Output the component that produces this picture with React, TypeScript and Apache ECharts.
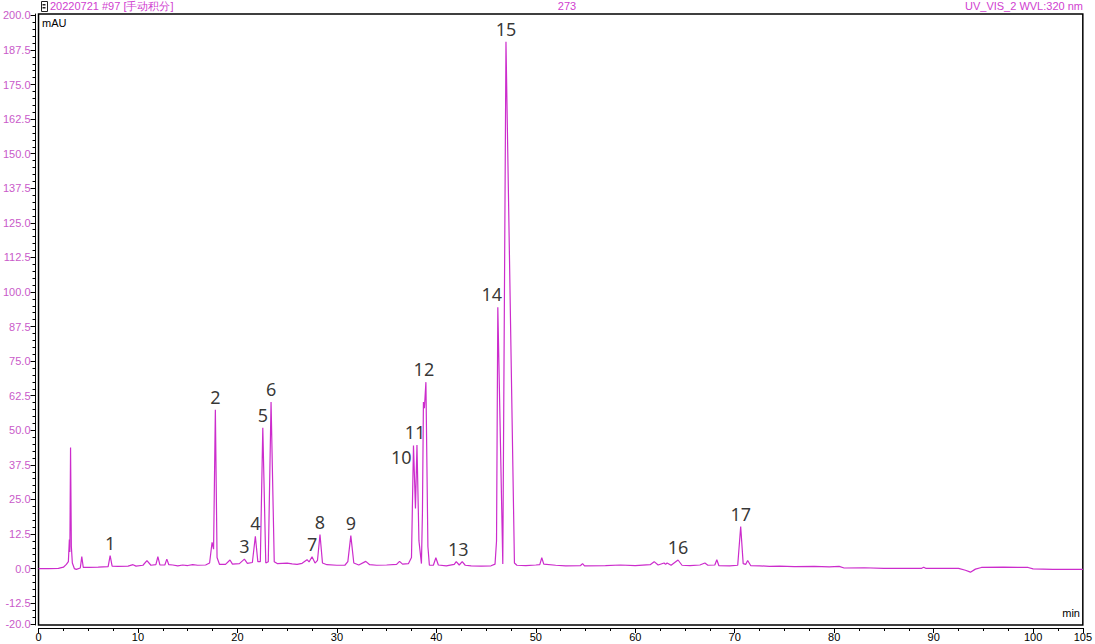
import React, { useEffect, useRef } from "react";
import * as echarts from "echarts";

// Chromatogram trace: [retention time (min), absorbance (mAU)]
const trace: [number, number][] = [
  [0.0, 0.0], [1.0, 0.0], [2.0, 0.1], [2.5, 0.5], [2.8, 1.5], [3.0, 2.5],
  [3.1, 10.5], [3.15, 6.0], [3.22, 43.8], [3.3, 8.0], [3.4, 2.0], [3.6, 0.0],
  [3.8, -0.3], [4.2, 0.2], [4.35, 4.3], [4.5, 0.4], [5.0, 0.4], [6.0, 0.5],
  [7.0, 0.7], [7.2, 4.7], [7.4, 0.9], [8.0, 0.8], [9.0, 0.9], [9.5, 1.4],
  [9.8, 0.9], [10.5, 1.2], [10.9, 2.9], [11.3, 1.2], [11.8, 1.4], [12.0, 4.3],
  [12.2, 1.3], [12.7, 1.3], [12.9, 3.4], [13.1, 1.4], [13.5, 1.3], [14.0, 1.0],
  [14.5, 1.3], [15.0, 1.1], [15.5, 1.4], [16.0, 1.2], [16.8, 1.3], [17.2, 2.0],
  [17.45, 9.5], [17.6, 7.0], [17.78, 57.4], [17.95, 4.0], [18.2, 1.5], [18.8, 1.5],
  [19.25, 3.1], [19.5, 1.6], [20.2, 1.8], [20.7, 3.4], [21.0, 1.9], [21.5, 2.2],
  [21.8, 11.7], [22.05, 2.5], [22.3, 2.5], [22.55, 50.9], [22.85, 2.0], [23.1, 2.5],
  [23.38, 60.2], [23.7, 2.5], [24.0, 1.8], [25.0, 2.0], [25.5, 1.7], [26.0, 1.5],
  [26.5, 1.9], [27.0, 3.2], [27.2, 2.4], [27.5, 4.3], [27.8, 2.0], [28.05, 3.0],
  [28.3, 12.3], [28.55, 2.0], [29.0, 1.4], [30.0, 1.2], [30.8, 1.2], [31.1, 2.5],
  [31.4, 11.9], [31.7, 2.0], [32.2, 1.3], [32.9, 2.6], [33.3, 1.4], [34.0, 1.2],
  [35.0, 1.3], [36.0, 1.5], [36.3, 2.6], [36.6, 1.6], [37.2, 1.8], [37.5, 4.0],
  [37.7, 44.5], [37.9, 21.7], [38.05, 44.7], [38.25, 10.0], [38.5, 1.8], [38.6, 20.0],
  [38.7, 60.2], [38.8, 58.0], [38.95, 67.4], [39.15, 8.0], [39.3, 1.2], [39.7, 1.2],
  [39.95, 3.9], [40.2, 1.3], [41.0, 1.0], [41.8, 1.5], [42.0, 2.5], [42.3, 1.3],
  [42.6, 2.5], [42.9, 1.2], [43.5, 1.0], [44.5, 0.9], [45.5, 1.0], [45.9, 1.6],
  [46.05, 10.0], [46.18, 94.5], [46.68, 1.7], [47.0, 190.5], [47.85, 2.0], [48.1, 1.2],
  [49.0, 1.1], [50.0, 1.3], [50.4, 1.4], [50.6, 3.9], [50.8, 1.6], [52.0, 1.2],
  [53.0, 1.0], [54.5, 1.1], [54.7, 1.8], [54.9, 1.0], [57.0, 1.1], [58.5, 1.3],
  [60.0, 1.1], [61.5, 1.4], [61.9, 2.5], [62.3, 1.3], [62.9, 2.0], [63.05, 1.5],
  [63.2, 2.0], [63.6, 1.2], [64.3, 3.1], [64.7, 1.2], [65.5, 1.1], [66.5, 1.3],
  [67.0, 2.0], [67.3, 1.2], [68.0, 1.3], [68.2, 3.2], [68.4, 1.1], [69.5, 1.0],
  [70.3, 1.2], [70.6, 15.2], [70.85, 1.8], [71.1, 1.5], [71.3, 2.9], [71.6, 1.1],
  [72.5, 1.0], [73.5, 0.8], [74.5, 0.9], [76.0, 0.7], [78.0, 0.8], [79.5, 0.6],
  [80.5, 0.8], [81.0, 0.2], [83.0, 0.3], [85.0, 0.1], [88.8, 0.1], [89.0, 0.5],
  [89.2, 0.1], [92.5, 0.1], [93.2, -0.6], [93.7, -1.3], [94.2, -0.2], [94.8, 0.4],
  [97.0, 0.5], [99.5, 0.4], [100.0, -0.1], [102.0, -0.3], [105.0, -0.3],
];

// Numbered peak annotations: [label, time, apex mAU]
const peakNames = ["1", "2", "3", "4", "5", "6", "7", "8", "9", "10", "11", "12", "13", "14", "15", "16", "17"];
const peakTimes = [7.2, 17.78, 20.7, 21.8, 22.55, 23.38, 27.5, 28.3, 31.4, 37.7, 38.05, 38.95, 42.2, 46.18, 47.0, 64.3, 70.6];
const peakHeights = [4.7, 57.4, 3.4, 11.7, 50.9, 60.2, 4.3, 12.3, 11.9, 44.5, 44.7, 67.4, 2.5, 94.5, 190.5, 3.1, 15.2];

const yTickLabels = [-20, -12.5, 0, 12.5, 25, 37.5, 50, 62.5, 75, 87.5, 100, 112.5, 125, 137.5, 150, 162.5, 175, 187.5, 200];
const xTickLabels = [0, 10, 20, 30, 40, 50, 60, 70, 80, 90, 100, 105];

const headerLeft = "20220721 #97 [手动积分]";
const headerCenter = "273";
const headerRight = "UV_VIS_2 WVL:320 nm";

const yMinor: number[] = [];
for (let v = -20; v <= 200.001; v += 2.5) yMinor.push(Math.round(v * 10) / 10);
const xMinor: number[] = [];
for (let v = 0; v <= 105.001; v += 2.5) xMinor.push(Math.round(v * 10) / 10);

const PINK = "#c95ac9";
const TRACE = "#cc2ccc";
const FONT = "'Liberation Sans', Arial, sans-serif";

export default function App() {
  const ref = useRef<HTMLDivElement>(null);
  useEffect(() => {
    if (!ref.current) return;
    const chart = echarts.init(ref.current, null, { renderer: "svg" });
    const labelData = peakNames.map((n, i) => {
      const item: any = { name: n, value: [peakTimes[i], peakHeights[i]] };
      if (n === "10") item.label = { position: "left", distance: 2, offset: [0, 12] };
      if (n === "11") item.label = { offset: [-2, 0] };
      if (n === "12") item.label = { offset: [-2, 0] };
      if (n === "14") item.label = { offset: [-6, 0] };
      return item;
    });
    const yBase = {
      type: "value",
      min: -20.4,
      max: 200.5,
      position: "left",
      offset: 3,
      splitLine: { show: false },
    };
    const xBase = {
      type: "value",
      min: 0,
      max: 105,
      position: "bottom",
      offset: 3,
      splitLine: { show: false },
    };
    chart.setOption({
      animation: false,
      backgroundColor: "#fff",
      grid: {
        left: 37,
        right: 9,
        top: 14,
        bottom: 19,
        show: true,
        borderColor: "#000",
        borderWidth: 1.5,
        backgroundColor: "transparent",
      },
      xAxis: [
        {
          ...xBase,
          axisLine: { show: true, onZero: false, lineStyle: { color: "#000", width: 1 } },
          axisTick: { show: true, customValues: xTickLabels, length: 5, lineStyle: { color: "#000" } },
          axisLabel: {
            customValues: xTickLabels,
            color: "#000",
            fontSize: 11,
            fontFamily: FONT,
            margin: 3,
            formatter: (v: number) => String(v),
          },
        },
        {
          ...xBase,
          axisLine: { show: false, onZero: false },
          axisTick: { show: true, customValues: xMinor, length: 3, lineStyle: { color: "#000" } },
          axisLabel: { show: false },
        },
      ],
      yAxis: [
        {
          ...yBase,
          axisLine: { show: true, onZero: false, lineStyle: { color: "#000", width: 1 } },
          axisTick: { show: true, customValues: yTickLabels, length: 5, lineStyle: { color: "#000" } },
          axisLabel: {
            customValues: yTickLabels,
            color: PINK,
            fontSize: 11,
            fontFamily: FONT,
            margin: 5,
            formatter: (v: number) => v.toFixed(1),
          },
        },
        {
          ...yBase,
          axisLine: { show: false, onZero: false },
          axisTick: { show: true, customValues: yMinor, length: 3, lineStyle: { color: "#000" } },
          axisLabel: { show: false },
        },
      ],
      series: [
        {
          type: "line",
          data: trace,
          xAxisIndex: 0,
          yAxisIndex: 0,
          showSymbol: false,
          symbol: "none",
          lineStyle: { color: TRACE, width: 1.2 },
          z: 3,
        },
        {
          type: "scatter",
          data: labelData,
          xAxisIndex: 0,
          yAxisIndex: 0,
          symbolSize: 0,
          silent: true,
          label: {
            show: true,
            position: "top",
            distance: 3,
            formatter: "{b}",
            color: "#000",
            fontSize: 18,
            lineHeight: 20,
            fontFamily: "'Noto Sans', sans-serif",
          },
          z: 4,
        },
      ],
      graphic: [
        { type: "rect", left: 41, top: 1, shape: { width: 6, height: 10 }, style: { fill: "#fff", stroke: "#222", lineWidth: 1 } },
        { type: "rect", left: 42.5, top: 4, shape: { width: 3, height: 1.5 }, style: { fill: "#222" } },
        { type: "rect", left: 42.5, top: 7, shape: { width: 3, height: 1.5 }, style: { fill: "#222" } },
        { type: "text", left: 50, top: 0, style: { text: headerLeft, fill: "#d040d0", font: `11px ${FONT}` } },
        { type: "text", x: 567, y: 0, style: { text: headerCenter, fill: "#d040d0", font: `11px ${FONT}`, align: "center" } },
        { type: "text", x: 1083, y: 0, style: { text: headerRight, fill: "#d040d0", font: `11px ${FONT}`, align: "right" } },
        { type: "text", left: 42, top: 17, style: { text: "mAU", fill: "#000", font: `11px ${FONT}` } },
        { type: "text", x: 1080, y: 607, style: { text: "min", fill: "#000", font: `11px ${FONT}`, align: "right" } },
      ],
    });
    return () => chart.dispose();
  }, []);
  return <div ref={ref} style={{ width: 1095, height: 644, position: "absolute", left: 0, top: 0 }} />;
}
